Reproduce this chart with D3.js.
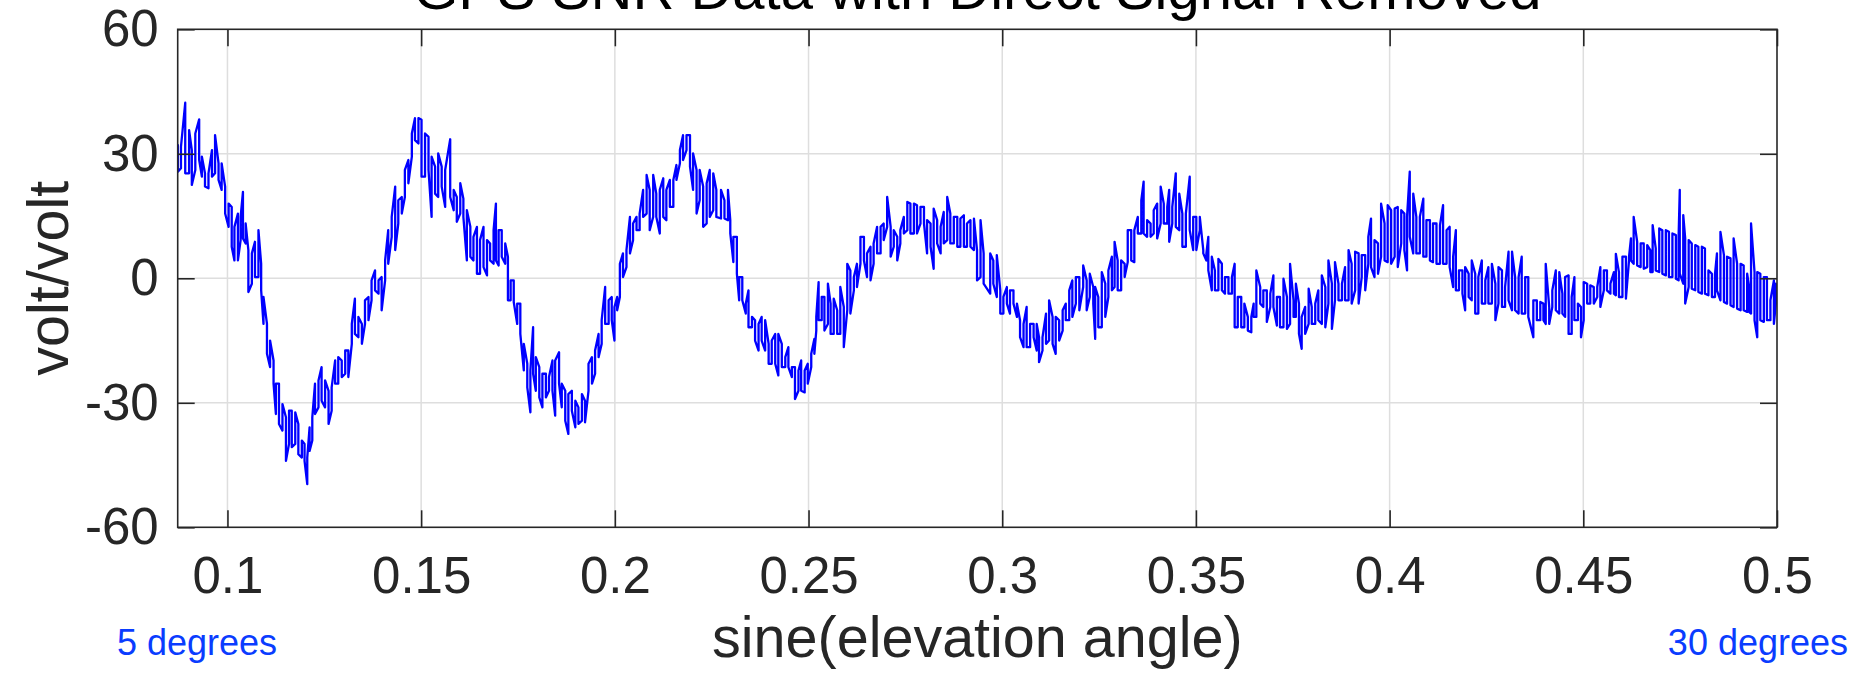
<!DOCTYPE html>
<html>
<head>
<meta charset="utf-8">
<script src="https://cdn.jsdelivr.net/npm/d3@7"></script>
<style>
  html, body { margin: 0; padding: 0; background: #fff; }
  svg { display: block; }
</style>
</head>
<body>
<div id="chart"></div>
<script>
// Elevation limits of the arc (degrees); the x axis runs in sine of elevation.
const elevLimitsDeg = [5, 30];

// Sampled SNR residuals: sine(elevation) and the upper / lower extent of the
// rapidly switching trace at each sample.
const sinElev = [
0.0872,0.0880,0.0891,0.0901,0.0908,0.0917,0.0927,0.0934,0.0942,0.0951,
0.0960,0.0968,0.0977,0.0985,0.0994,0.1003,0.1011,0.1018,0.1027,0.1034,
0.1040,0.1047,0.1054,0.1063,0.1071,0.1080,0.1087,0.1093,0.1102,0.1110,
0.1119,0.1125,0.1133,0.1142,0.1151,0.1159,0.1166,0.1175,0.1183,0.1192,
0.1199,0.1206,0.1212,0.1219,0.1226,0.1235,0.1243,0.1252,0.1261,0.1269,
0.1278,0.1286,0.1295,0.1304,0.1312,0.1321,0.1329,0.1338,0.1347,0.1355,
0.1364,0.1372,0.1381,0.1390,0.1398,0.1407,0.1415,0.1424,0.1433,0.1441,
0.1450,0.1458,0.1467,0.1476,0.1484,0.1493,0.1501,0.1510,0.1519,0.1527,
0.1536,0.1544,0.1553,0.1562,0.1575,0.1584,0.1592,0.1601,0.1609,0.1618,
0.1627,0.1635,0.1644,0.1652,0.1661,0.1670,0.1678,0.1687,0.1693,0.1700,
0.1708,0.1717,0.1724,0.1731,0.1739,0.1748,0.1756,0.1765,0.1774,0.1782,
0.1789,0.1796,0.1805,0.1813,0.1822,0.1830,0.1839,0.1846,0.1856,0.1863,
0.1872,0.1880,0.1889,0.1898,0.1906,0.1915,0.1923,0.1932,0.1941,0.1949,
0.1958,0.1966,0.1975,0.1984,0.1992,0.1999,0.2006,0.2013,0.2021,0.2030,
0.2039,0.2047,0.2056,0.2064,0.2073,0.2082,0.2090,0.2099,0.2107,0.2116,
0.2125,0.2133,0.2142,0.2151,0.2159,0.2168,0.2176,0.2185,0.2194,0.2202,
0.2211,0.2219,0.2228,0.2237,0.2245,0.2254,0.2262,0.2274,0.2283,0.2292,
0.2298,0.2306,0.2315,0.2321,0.2329,0.2338,0.2345,0.2354,0.2362,0.2371,
0.2379,0.2388,0.2397,0.2405,0.2414,0.2422,0.2431,0.2440,0.2448,0.2457,
0.2465,0.2474,0.2481,0.2490,0.2498,0.2507,0.2515,0.2520,0.2526,0.2534,
0.2541,0.2550,0.2557,0.2565,0.2574,0.2582,0.2591,0.2600,0.2608,0.2617,
0.2625,0.2634,0.2643,0.2651,0.2660,0.2668,0.2677,0.2686,0.2694,0.2703,
0.2712,0.2720,0.2729,0.2737,0.2746,0.2755,0.2763,0.2772,0.2780,0.2789,
0.2798,0.2806,0.2815,0.2823,0.2832,0.2841,0.2849,0.2858,0.2866,0.2875,
0.2884,0.2892,0.2901,0.2909,0.2918,0.2927,0.2935,0.2944,0.2952,0.2969,
0.2977,0.2986,0.2995,0.3003,0.3012,0.3020,0.3029,0.3038,0.3046,0.3055,
0.3063,0.3072,0.3081,0.3089,0.3095,0.3104,0.3113,0.3121,0.3130,0.3138,
0.3147,0.3156,0.3164,0.3173,0.3181,0.3190,0.3199,0.3209,0.3218,0.3226,
0.3235,0.3240,0.3248,0.3257,0.3266,0.3274,0.3283,0.3290,0.3298,0.3307,
0.3316,0.3324,0.3333,0.3341,0.3350,0.3359,0.3365,0.3374,0.3383,0.3391,
0.3400,0.3409,0.3417,0.3426,0.3431,0.3439,0.3448,0.3457,0.3465,0.3474,
0.3484,0.3493,0.3501,0.3510,0.3519,0.3527,0.3532,0.3541,0.3549,0.3558,
0.3567,0.3575,0.3584,0.3593,0.3600,0.3608,0.3617,0.3625,0.3634,0.3643,
0.3649,0.3656,0.3666,0.3674,0.3683,0.3692,0.3700,0.3709,0.3717,0.3726,
0.3735,0.3743,0.3752,0.3758,0.3766,0.3773,0.3782,0.3791,0.3799,0.3808,
0.3816,0.3825,0.3834,0.3842,0.3851,0.3859,0.3868,0.3877,0.3885,0.3894,
0.3902,0.3911,0.3920,0.3928,0.3937,0.3945,0.3952,0.3961,0.3970,0.3978,
0.3987,0.3995,0.4004,0.4013,0.4021,0.4030,0.4038,0.4045,0.4052,0.4061,
0.4069,0.4078,0.4087,0.4095,0.4104,0.4112,0.4121,0.4130,0.4138,0.4147,
0.4155,0.4164,0.4171,0.4179,0.4188,0.4195,0.4204,0.4212,0.4221,0.4229,
0.4238,0.4247,0.4255,0.4264,0.4273,0.4281,0.4290,0.4298,0.4307,0.4316,
0.4324,0.4333,0.4341,0.4350,0.4358,0.4371,0.4380,0.4389,0.4397,0.4403,
0.4412,0.4420,0.4429,0.4438,0.4446,0.4453,0.4462,0.4470,0.4477,0.4486,
0.4494,0.4501,0.4510,0.4518,0.4527,0.4536,0.4544,0.4553,0.4561,0.4570,
0.4579,0.4584,0.4592,0.4601,0.4610,0.4618,0.4623,0.4630,0.4639,0.4648,
0.4656,0.4665,0.4673,0.4679,0.4687,0.4696,0.4704,0.4713,0.4721,0.4730,
0.4739,0.4746,0.4749,0.4758,0.4763,0.4772,0.4780,0.4789,0.4797,0.4806,
0.4814,0.4823,0.4832,0.4840,0.4845,0.4854,0.4863,0.4871,0.4880,0.4888,
0.4897,0.4906,0.4914,0.4923,0.4928,0.4933,0.4942,0.4949,0.4957,0.4966,
0.4974,0.4983,0.4992,0.4997
];

const upper = [
32.1,31.7,42.3,35.7,30.9,34.9,38.3,29.3,25.3,25.3,
30.9,34.5,27.7,27.7,22.1,18.0,17.2,12.4,15.6,14.8,
20.8,13.2,6.8,6.0,8.8,11.6,3.5,-4.5,-11.0,-15.0,
-19.8,-25.4,-25.4,-30.3,-33.5,-31.9,-31.9,-32.3,-35.1,-39.1,
-39.9,-43.2,-35.9,-33.5,-25.4,-24.6,-21.4,-24.6,-27.1,-26.3,
-19.8,-19.0,-19.8,-17.4,-17.4,-11.0,-4.9,-9.3,-11.0,-5.3,
-4.5,-0.5,1.9,-0.5,0.3,4.3,11.6,14.8,22.1,18.8,
19.6,26.1,28.5,34.9,38.6,38.6,38.2,34.9,34.1,29.3,
26.9,30.1,26.9,26.1,33.5,21.3,19.6,22.9,19.2,16.4,
12.4,10.0,12.4,9.2,12.4,9.2,8.4,11.6,18.0,11.6,
11.6,8.4,5.2,-0.5,-0.5,-6.1,-6.1,-15.8,-20.6,-22.2,
-11.8,-19.0,-21.4,-23.0,-23.0,-23.8,-19.8,-19.8,-17.8,-25.4,
-27.1,-27.9,-27.1,-29.5,-31.1,-27.9,-29.5,-20.6,-19.0,-17.4,
-13.4,-10.1,-2.1,-5.3,-4.5,-6.9,-4.5,3.5,6.0,6.8,
14.8,13.2,14.8,15.6,21.3,24.9,21.3,24.9,20.4,21.3,
24.1,21.3,23.7,23.7,27.3,30.9,34.5,34.5,34.5,30.1,
26.1,26.1,22.1,22.9,26.1,25.3,21.3,21.3,18.8,21.3,
14.0,10.0,10.0,0.3,0.3,-6.1,-2.9,-9.3,-10.1,-11.0,
-9.3,-10.1,-15.8,-15.0,-13.4,-13.4,-15.8,-19.0,-16.6,-21.4,
-21.4,-22.2,-19.8,-22.2,-20.6,-18.2,-14.6,-9.3,-0.9,-4.5,
-4.5,-1.3,-6.1,-4.9,-7.7,-2.1,-6.9,3.5,1.9,0.3,
3.5,10.0,10.0,6.0,7.6,8.4,12.4,12.4,13.2,19.6,
12.4,11.6,10.0,11.6,14.8,18.4,18.0,18.0,17.6,17.2,
17.2,14.0,13.2,16.8,14.0,12.4,16.0,19.6,15.6,14.8,
14.8,14.4,15.2,13.2,14.0,14.4,6.8,14.0,6.0,6.0,
4.3,5.6,-2.9,-4.5,-2.1,-2.9,-2.9,-6.1,-10.1,-11.0,
-6.9,-11.0,-11.0,-11.0,-14.2,-14.2,-8.5,-5.3,-9.3,-9.3,
-10.1,-7.7,-6.1,-2.9,-0.5,0.3,0.3,3.1,-0.5,1.1,
-2.1,-2.1,-4.5,1.5,-1.3,1.9,5.2,8.8,4.3,4.3,
3.5,11.6,11.6,11.6,14.8,18.8,23.3,14.0,13.2,16.4,
18.0,22.1,18.0,17.2,21.3,17.2,25.3,20.4,15.6,15.6,
24.5,14.8,14.8,14.8,6.8,6.0,10.0,5.2,1.9,4.7,
3.5,0.3,0.3,0.3,3.5,-4.5,-4.5,-6.1,-9.3,-9.3,
-6.1,1.9,-2.1,-2.9,-2.9,-3.7,0.7,-4.5,-4.5,-0.1,
-4.5,3.5,-5.3,-1.3,-6.1,-9.3,-6.9,-2.5,-6.9,-6.1,
-2.9,0.7,-2.1,4.3,-1.3,3.9,-1.3,-1.3,2.7,6.8,
3.5,6.4,6.0,5.6,5.6,10.0,14.4,9.2,8.4,18.0,
13.2,17.6,16.4,16.8,17.2,16.4,15.6,14.8,25.7,20.4,
14.8,14.8,19.2,14.0,14.0,13.2,13.2,12.8,17.6,11.6,
12.4,5.2,11.6,1.9,1.9,2.7,1.1,4.3,1.1,0.3,
4.3,-0.5,2.7,3.5,-1.3,2.7,1.9,-2.1,6.4,6.4,
0.3,0.3,5.2,0.3,0.3,-5.3,-5.3,-5.7,-6.1,3.5,
-6.9,-2.9,1.9,1.5,-3.7,0.3,0.7,-4.5,0.3,-6.1,
-6.9,-0.9,-1.3,-1.7,-2.1,-2.1,2.7,1.9,1.9,-1.3,
1.5,5.9,1.5,5.2,5.2,5.2,9.6,14.8,8.8,8.4,
8.4,8.0,6.8,12.8,7.2,12.0,11.6,11.6,11.2,10.8,
10.4,10.0,21.3,15.2,9.6,9.2,8.4,8.0,7.6,7.6,
7.2,1.9,1.1,1.1,6.0,11.2,5.6,5.2,4.8,9.6,
3.5,3.5,3.1,1.1,-2.1,13.2,1.5,1.5,1.1,0.3,
0.3,-5.3,-0.5,-1.3
];

const lower = [
25.7,26.5,25.3,25.3,22.5,26.1,28.5,24.5,22.1,21.7,
24.5,25.3,23.7,21.3,15.6,12.4,7.6,4.3,4.3,9.2,
9.6,8.4,-3.3,-1.3,0.3,0.3,-2.9,-11.0,-18.2,-21.4,
-25.4,-32.7,-35.1,-36.7,-44.0,-39.9,-40.7,-39.9,-42.4,-43.2,
-44.0,-49.6,-41.6,-39.1,-32.7,-31.1,-29.5,-31.1,-35.1,-31.9,
-25.4,-25.4,-23.8,-23.0,-23.8,-15.8,-13.4,-14.2,-15.8,-11.0,
-10.1,-5.3,-2.9,-3.7,-7.7,-0.5,3.5,10.0,6.8,13.2,
15.6,19.6,22.9,29.3,33.3,32.5,24.5,24.5,26.1,14.8,
20.4,19.6,22.1,17.2,19.6,16.4,13.6,15.6,14.8,4.3,
5.2,4.3,1.1,1.1,2.7,0.7,4.3,3.5,4.3,3.1,
5.2,3.5,-5.3,-5.3,-5.7,-11.0,-13.4,-22.2,-26.3,-32.3,
-23.0,-27.1,-28.7,-31.1,-28.7,-27.1,-27.1,-33.1,-25.4,-31.1,
-34.3,-37.5,-31.9,-35.9,-35.1,-34.3,-34.7,-27.1,-25.4,-23.0,
-19.0,-15.8,-11.0,-11.0,-10.1,-15.0,-7.7,-4.5,0.3,2.7,
6.0,9.2,11.6,11.6,14.8,15.6,11.6,14.8,14.8,10.8,
14.8,14.0,17.2,17.2,23.7,27.7,28.5,30.9,26.9,21.3,
15.6,18.8,12.4,13.2,14.8,16.4,14.8,14.4,14.4,14.0,
10.8,3.9,1.1,-5.3,-5.3,-8.5,-11.8,-11.8,-15.0,-17.4,
-15.0,-17.4,-20.6,-20.6,-20.6,-23.4,-21.4,-21.4,-21.4,-23.8,
-29.1,-27.1,-27.1,-27.5,-25.4,-21.4,-18.2,-12.6,-10.1,-10.1,
-12.6,-11.0,-13.4,-13.4,-13.4,-13.4,-16.6,-7.7,-8.5,-2.9,
-2.1,3.5,4.3,0.3,-0.5,3.5,6.0,6.0,9.2,12.4,
5.2,7.6,4.3,8.4,10.8,11.6,10.8,10.8,10.8,13.2,
13.2,6.0,7.6,2.3,8.4,6.0,8.4,9.2,8.4,8.4,
7.6,7.6,7.6,7.6,7.6,6.8,-0.5,0.3,-1.3,-3.7,
-1.3,-4.5,-8.5,-8.5,-6.1,-8.5,-6.1,-9.3,-14.2,-16.6,
-16.6,-16.6,-14.2,-17.4,-20.2,-17.4,-15.8,-15.0,-15.8,-18.2,
-15.0,-12.6,-10.1,-10.1,-9.3,-6.1,-7.7,-2.1,-7.7,-4.5,
-6.1,-14.6,-11.8,-11.8,-9.3,-4.5,-2.9,-2.1,-2.9,-2.9,
0.3,3.9,4.3,3.9,10.8,10.8,10.8,10.0,10.0,10.8,
9.6,13.2,13.2,13.2,8.8,13.2,12.4,11.6,7.6,7.6,
11.6,6.8,6.8,11.6,6.0,4.3,1.9,-2.9,-2.9,-2.9,
-2.9,-3.7,-3.7,-3.7,-11.8,-11.8,-11.8,-11.8,-12.6,-13.0,
-9.3,-9.3,-6.1,-6.9,-10.5,-6.9,-6.9,-11.4,-11.8,-11.8,
-12.2,-11.0,-9.3,-9.3,-13.4,-17.0,-13.4,-11.0,-11.0,-11.0,
-10.1,-11.0,-11.8,-6.1,-12.2,-5.3,-5.3,-5.3,-5.3,-5.3,
-6.1,-2.9,-6.1,0.3,-2.9,3.5,2.7,0.3,1.1,5.2,
4.3,3.9,3.5,5.2,2.7,8.4,6.8,1.9,10.0,6.0,
6.0,6.0,5.2,5.2,4.3,3.9,3.5,3.5,3.5,3.5,
2.7,-2.1,-2.9,-2.9,-3.7,-7.7,-4.5,-5.3,-8.5,-8.5,
-6.1,-6.1,-6.1,-6.1,-10.1,-6.1,-6.9,-6.9,-5.3,-7.7,
-7.7,-8.5,-8.5,-8.5,-9.3,-14.2,-10.1,-10.1,-10.1,-11.0,
-11.0,-6.9,-7.7,-8.5,-8.5,-9.3,-13.4,-13.4,-10.1,-10.1,
-14.2,-10.1,-6.1,-6.1,-6.1,-4.5,-6.9,-2.9,-2.9,-3.7,
-3.7,-4.1,-4.5,-4.5,-4.9,4.3,4.3,3.5,3.1,2.7,
2.3,2.7,1.5,1.5,1.9,1.5,1.1,0.7,0.3,0.3,
-0.1,-0.5,1.1,-1.3,-6.1,-2.1,-2.5,-2.9,-3.3,-3.7,
-3.7,-4.1,-4.5,-4.5,-2.9,-5.3,-5.7,-6.1,-6.5,-6.9,
-7.3,-7.7,-7.7,-8.1,-8.1,-8.5,-10.1,-14.2,-10.1,-10.5,
-10.1,-10.1,-11.0,-6.1
];

// Axis ticks and texts
const xTicks = [0.1, 0.15, 0.2, 0.25, 0.3, 0.35, 0.4, 0.45, 0.5];
const yTicks = [-60, -30, 0, 30, 60];
const yLimits = [-60, 60];
const titleText = "GPS SNR Data with Direct Signal Removed";
const xLabelText = "sine(elevation angle)";
const yLabelText = "volt/volt";
const elevNotes = ["5 degrees", "30 degrees"];

// ---- layout ----
const W = 1856, H = 674;
const plot = { left: 177.7, right: 1777, top: 29.3, bottom: 527.3 };
const FONT = "'Liberation Sans', Arial, Helvetica, sans-serif";
const AXIS_COLOR = "#262626";
const GRID_COLOR = "#dedede";
const TRACE_COLOR = "#0000ff";
const NOTE_COLOR = "#0a3cff";
const TICK_LEN = 17;

const toRad = d => d * Math.PI / 180;
const x = d3.scaleLinear()
  .domain(elevLimitsDeg.map(d => Math.sin(toRad(d))))
  .range([plot.left, plot.right]);
const y = d3.scaleLinear().domain(yLimits).range([plot.bottom, plot.top]);

const svg = d3.select("#chart").append("svg")
  .attr("width", W).attr("height", H)
  .attr("viewBox", `0 0 ${W} ${H}`)
  .style("font-family", FONT);

svg.append("rect").attr("width", W).attr("height", H).attr("fill", "#fff");

// grid
const grid = svg.append("g").attr("stroke", GRID_COLOR).attr("stroke-width", 1.5);
grid.selectAll("line.gx").data(xTicks.filter(d => x(d) < plot.right - 1)).join("line")
  .attr("class", "gx")
  .attr("x1", d => x(d)).attr("x2", d => x(d))
  .attr("y1", plot.top).attr("y2", plot.bottom);
grid.selectAll("line.gy").data(yTicks.filter(d => d > yLimits[0] && d < yLimits[1])).join("line")
  .attr("class", "gy")
  .attr("x1", plot.left).attr("x2", plot.right)
  .attr("y1", d => y(d)).attr("y2", d => y(d));

// data trace: walk each sample's vertical extent, alternating direction
svg.append("defs").append("clipPath").attr("id", "plotClip")
  .append("rect")
  .attr("x", plot.left).attr("y", plot.top)
  .attr("width", plot.right - plot.left).attr("height", plot.bottom - plot.top);

const n = Math.min(sinElev.length, upper.length, lower.length);
const tracePts = [];
for (let i = 0; i < n; i++) {
  const a = { s: sinElev[i], v: upper[i] };
  const b = { s: sinElev[i], v: lower[i] };
  if (i % 2 === 0) tracePts.push(a, b); else tracePts.push(b, a);
}
const line = d3.line().x(d => x(d.s)).y(d => y(d.v));
svg.append("path")
  .datum(tracePts)
  .attr("clip-path", "url(#plotClip)")
  .attr("d", line)
  .attr("fill", "none")
  .attr("stroke", TRACE_COLOR)
  .attr("stroke-width", 2.3)
  .attr("stroke-linejoin", "round")
  .attr("stroke-linecap", "round");

// axes (ticks point inward on all four sides)
const fmtX = d => String(+d.toFixed(2));
const fmtY = d => String(d);
function styleAxis(g) {
  g.select(".domain").remove();
  g.selectAll(".tick line").attr("stroke", AXIS_COLOR).attr("stroke-width", 1.6);
  g.selectAll(".tick text").attr("fill", AXIS_COLOR);
}

svg.append("g")
  .attr("transform", `translate(0,${plot.bottom})`)
  .call(d3.axisBottom(x).tickValues(xTicks).tickFormat(fmtX)
    .tickSizeInner(-TICK_LEN).tickSizeOuter(0).tickPadding(29))
  .attr("font-size", 51).attr("font-family", FONT)
  .call(styleAxis);

svg.append("g")
  .attr("transform", `translate(0,${plot.top})`)
  .call(d3.axisTop(x).tickValues(xTicks).tickFormat("")
    .tickSizeInner(-TICK_LEN).tickSizeOuter(0))
  .call(styleAxis);

svg.append("g")
  .attr("transform", `translate(${plot.left},0)`)
  .call(d3.axisLeft(y).tickValues(yTicks).tickFormat(fmtY)
    .tickSizeInner(-TICK_LEN).tickSizeOuter(0).tickPadding(19))
  .attr("font-size", 51).attr("font-family", FONT)
  .call(styleAxis);

svg.append("g")
  .attr("transform", `translate(${plot.right},0)`)
  .call(d3.axisRight(y).tickValues(yTicks).tickFormat("")
    .tickSizeInner(-TICK_LEN).tickSizeOuter(0))
  .call(styleAxis);

// frame
svg.append("rect")
  .attr("x", plot.left).attr("y", plot.top)
  .attr("width", plot.right - plot.left).attr("height", plot.bottom - plot.top)
  .attr("fill", "none").attr("stroke", AXIS_COLOR).attr("stroke-width", 1.6);

// titles and labels (the title sits flush with the top edge of the figure)
const cx = (plot.left + plot.right) / 2;
svg.append("text")
  .attr("x", cx).attr("y", 9)
  .attr("text-anchor", "middle").attr("font-size", 58).attr("fill", "#000")
  .text(titleText);

svg.append("text")
  .attr("x", cx).attr("y", 656.5)
  .attr("text-anchor", "middle").attr("font-size", 57.5).attr("fill", AXIS_COLOR)
  .text(xLabelText);

svg.append("text")
  .attr("transform", `translate(68,${(plot.top + plot.bottom) / 2}) rotate(-90)`)
  .attr("text-anchor", "middle").attr("font-size", 57.5).attr("fill", AXIS_COLOR)
  .text(yLabelText);

svg.append("text")
  .attr("x", 117).attr("y", 655)
  .attr("text-anchor", "start").attr("font-size", 36).attr("fill", NOTE_COLOR)
  .text(elevNotes[0]);

svg.append("text")
  .attr("x", 1848).attr("y", 655)
  .attr("text-anchor", "end").attr("font-size", 36).attr("fill", NOTE_COLOR)
  .text(elevNotes[1]);
</script>
</body>
</html>
